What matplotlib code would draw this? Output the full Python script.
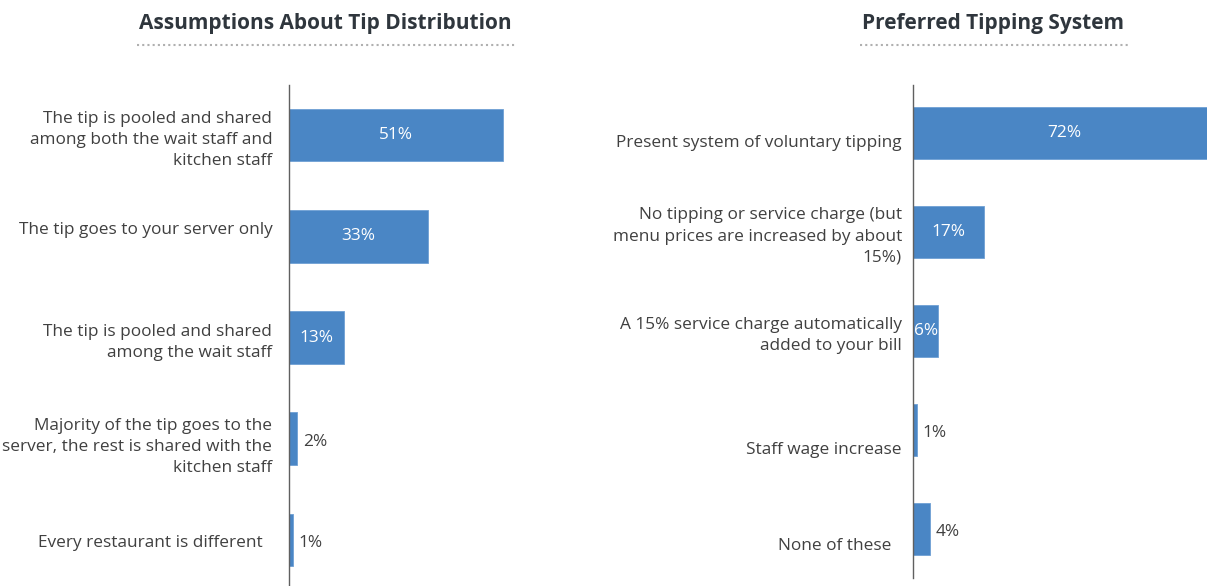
import numpy as np
import matplotlib
matplotlib.use('Agg')
import matplotlib.pyplot as plt
from matplotlib.lines import Line2D
from matplotlib.transforms import ScaledTranslation

# data
left_title = 'Assumptions About Tip Distribution'
left_labels = ['The tip is pooled and shared\namong both the wait staff and\nkitchen staff',
               'The tip goes to your server only',
               'The tip is pooled and shared\namong the wait staff',
               'Majority of the tip goes to the\nserver, the rest is shared with the\nkitchen staff',
               'Every restaurant is different']
left_values = [51, 33, 13, 2, 1]

right_title = 'Preferred Tipping System'
right_labels = ['Present system of voluntary tipping',
                'No tipping or service charge (but\nmenu prices are increased by about\n15%)',
                'A 15% service charge automatically\nadded to your bill',
                'Staff wage increase',
                'None of these']
right_values = [72, 17, 6, 1, 4]

# styling
plt.rcParams['font.family'] = ['Open Sans', 'DejaVu Sans']
bar_color = '#4a86c5'
text_color = '#404040'
title_color = '#2f363d'
W, H = 1207, 586
px_per_pct = 4.2
fs = 12.4

fig = plt.figure(figsize=(W / 100, H / 100), dpi=100)


def panel(x0, x1, ytop, ybot, ylim, labels, values, pad, nudges, inside_min):
    ax = fig.add_axes([x0 / W, 1 - ybot / H, (x1 - x0) / W, (ybot - ytop) / H])
    y = np.arange(len(values))
    ax.barh(y, values, height=0.52, color=bar_color, edgecolor='#6fa0d4', linewidth=0.6)
    xmax = (x1 - x0) / px_per_pct
    ax.set_xlim(0, xmax)
    ax.set_ylim(*ylim)
    ax.set_yticks(y)
    ax.set_yticklabels(labels, fontsize=fs, color=text_color, linespacing=1.42)
    ax.tick_params(axis='y', length=0, pad=pad)
    ax.set_xticks([])
    for s in ['top', 'right', 'bottom']:
        ax.spines[s].set_visible(False)
    ax.spines['left'].set_color('#606060')
    ax.spines['left'].set_linewidth(1.0)
    # nudge some category labels like the original (pixels)
    for lab, (dx, dy) in zip(ax.get_yticklabels(), nudges):
        lab.set_transform(lab.get_transform() + ScaledTranslation(dx / 100, -dy / 100, fig.dpi_scale_trans))
    for yi, v in zip(y, values):
        if v >= inside_min:
            xc = v / 2 if v < xmax else v / 2 + 0.1
            ax.text(xc, yi, f'{v}%', ha='center', va='center', color='white', fontsize=fs)
        else:
            ax.text(v + 1.3, yi + 0.03, f'{v}%', ha='left', va='center', color=text_color, fontsize=fs)
    return ax


panel(289, 760, 85, 586, (4.455, -0.495), left_labels, left_values, 12,
      [(0, 0), (0, -8), (0, 0), (0, 4), (-10, 1)], 5)
panel(913, 1207, 85, 578, (4.495, -0.485), right_labels, right_values, 8,
      [(0, 8), (0, 0), (0, 0), (0, 18), (-11, 15)], 5)


def title(text, xc, x0, x1):
    fig.text(xc / W, 1 - 23 / H, text, ha='center', va='center', fontsize=15,
             fontweight='bold', color=title_color)
    fig.add_artist(Line2D([x0 / W, x1 / W], [1 - 45 / H, 1 - 45 / H], color='#b0b0b0',
                          linewidth=1.5, linestyle=(0, (1, 1.5))))


title(left_title, 325, 137, 517)
title(right_title, 993, 860, 1130)

fig.savefig('out.png', dpi=100)
